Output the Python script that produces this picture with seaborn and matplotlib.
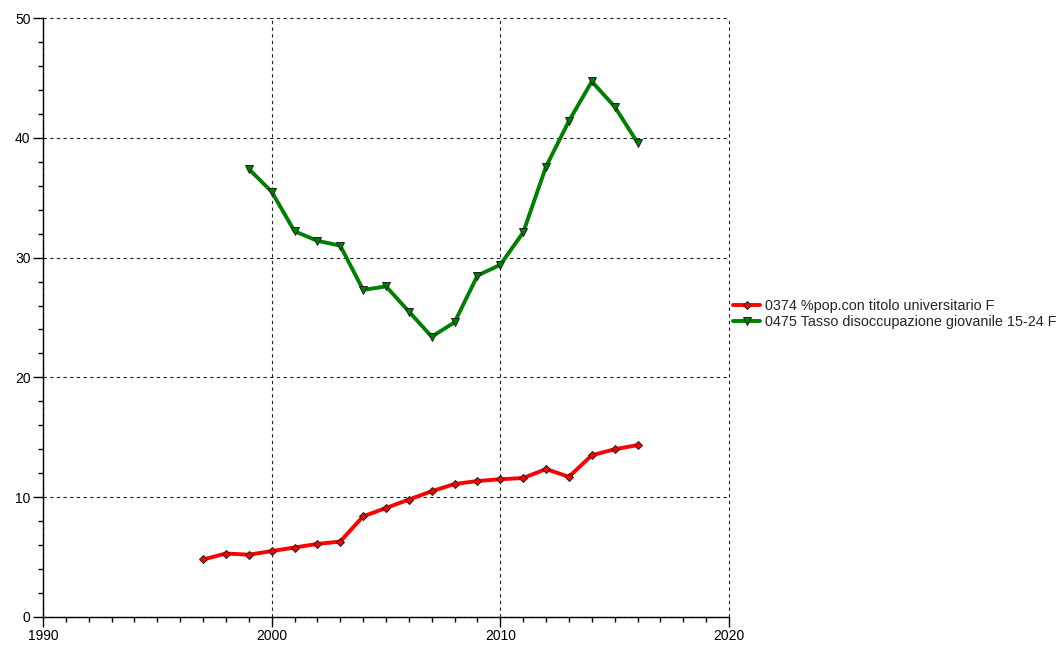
"""Recreate the line chart: graduate share vs youth unemployment (women)."""

import matplotlib

matplotlib.use("Agg")

import matplotlib.pyplot as plt
import pandas as pd
import seaborn as sns
from matplotlib.ticker import MultipleLocator

# data
years_grad = list(range(1997, 2017))
grad_values = [4.8, 5.3, 5.2, 5.5, 5.8, 6.1, 6.3, 8.4, 9.1, 9.8,
               10.5, 11.1, 11.35, 11.5, 11.6, 12.35, 11.7, 13.5, 14.0, 14.35]

years_unemp = list(range(1999, 2017))
unemp_values = [37.4, 35.5, 32.2, 31.4, 31.0, 27.3, 27.6, 25.5, 23.4, 24.6,
                28.5, 29.4, 32.1, 37.6, 41.4, 44.7, 42.6, 39.6]

label_grad = "0374 %pop.con titolo universitario F"
label_unemp = "0475 Tasso disoccupazione giovanile 15-24 F"

x_ticks = [1990, 2000, 2010, 2020]
y_ticks = [0, 10, 20, 30, 40, 50]

sns.set_style("white")
plt.rcParams["font.family"] = ["Liberation Sans", "DejaVu Sans"]

grad = pd.DataFrame({"year": years_grad, "value": grad_values})
unemp = pd.DataFrame({"year": years_unemp, "value": unemp_values})

fig = plt.figure(figsize=(10.64, 6.46), dpi=100)
ax = fig.add_axes([43 / 1064, 29 / 646, 686 / 1064, 599 / 646])

sns.lineplot(data=grad, x="year", y="value", ax=ax, color="#ff0000",
             linewidth=2.8, marker="D", markersize=4.5,
             markerfacecolor="#ff0000", markeredgecolor="#202020",
             markeredgewidth=0.7, label=label_grad, legend=False)
sns.lineplot(data=unemp, x="year", y="value", ax=ax, color="#008000",
             linewidth=2.8, marker="v", markersize=6,
             markerfacecolor="#008000", markeredgecolor="#202020",
             markeredgewidth=0.7, label=label_unemp, legend=False)

ax.set_xlim(1990, 2020)
ax.set_ylim(0, 50)
ax.set_xticks(x_ticks)
ax.set_yticks(y_ticks)
ax.xaxis.set_minor_locator(MultipleLocator(1))
ax.yaxis.set_minor_locator(MultipleLocator(2))
ax.set_xlabel("")
ax.set_ylabel("")

ax.grid(True, which="major", color="#222222", linestyle=(0, (3, 3)),
        linewidth=0.8)
ax.set_axisbelow(True)
# keep the edge grid lines (2020, 50) fully visible
for gl in ax.get_xgridlines() + ax.get_ygridlines():
    gl.set_clip_on(False)

for side in ["top", "right"]:
    ax.spines[side].set_visible(False)
for side in ["left", "bottom"]:
    ax.spines[side].set_color("black")
    ax.spines[side].set_linewidth(1.0)

ax.tick_params(which="major", direction="out", length=7, width=1,
               colors="black", labelsize=10, left=True, bottom=True,
               pad=2)
ax.tick_params(which="minor", direction="out", length=3.5, width=1,
               colors="black", left=True, bottom=True)

handles, labels = ax.get_legend_handles_labels()
fig.legend(handles, labels, loc="center left",
           bbox_to_anchor=(733 / 1064, 1 - 314 / 646), frameon=False,
           fontsize=10.4, handlelength=1.9, handletextpad=0.3,
           labelspacing=0.15, borderaxespad=0, borderpad=0)

fig.savefig("out.png", dpi=100)
plt.close(fig)
